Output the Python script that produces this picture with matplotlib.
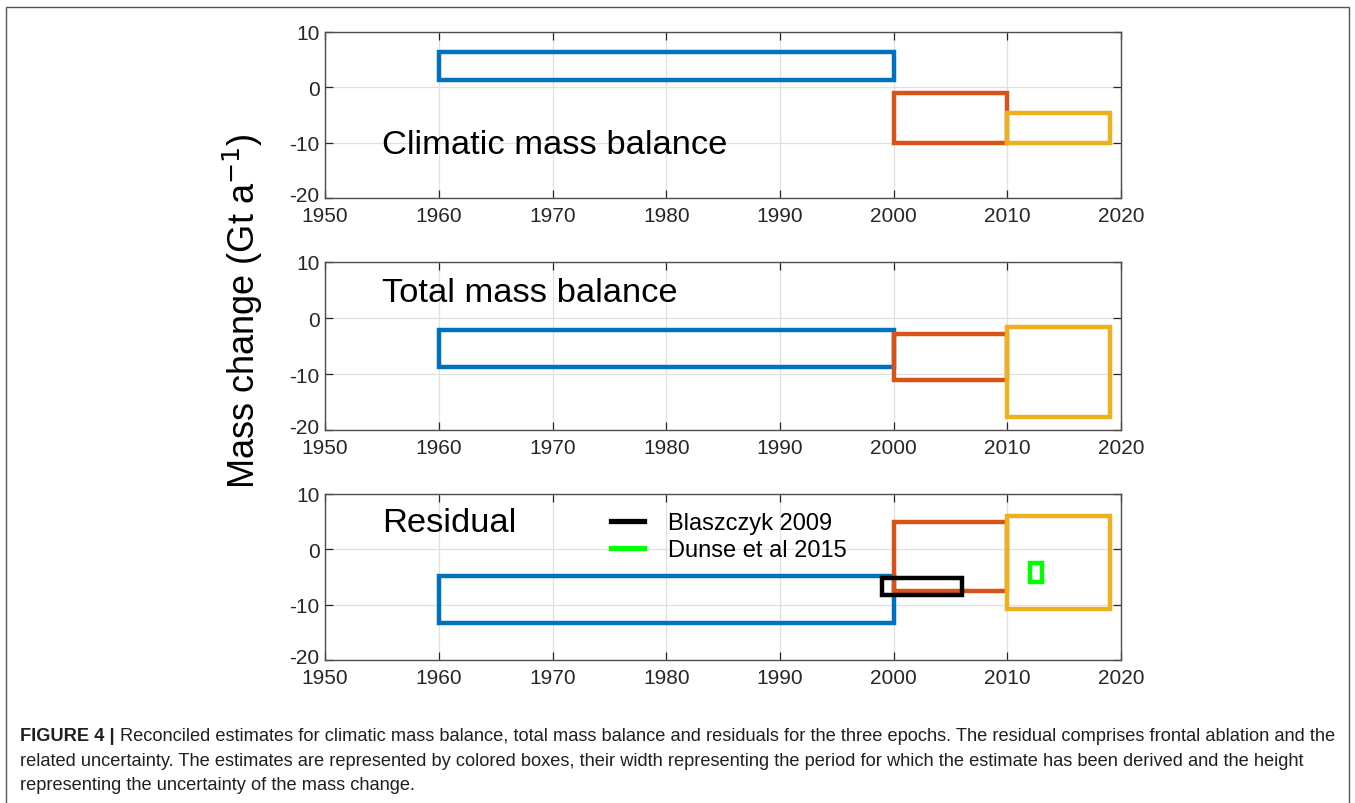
import matplotlib.pyplot as plt
import matplotlib.transforms as mtransforms
from matplotlib.patches import Rectangle

# epochs (start, end) and box limits (low, high) in Gt/a
epoch_start = [1960, 2000, 2010]
epoch_end = [2000, 2010, 2019]
box_colors = ['#0072BD', '#D95319', '#EDB120']

climatic_low = [1.3, -10.0, -10.0]
climatic_high = [6.4, -1.0, -4.6]

total_low = [-8.7, -11.0, -17.6]
total_high = [-2.2, -2.8, -1.6]

residual_low = [-13.4, -7.6, -10.8]
residual_high = [-4.9, 4.9, 6.1]

# published estimates for the residual
blaszczyk_x = [1999, 2006]
blaszczyk_y = [-8.3, -5.1]
dunse_x = [2012, 2013]
dunse_y = [-6.0, -2.5]

xticks = [1950, 1960, 1970, 1980, 1990, 2000, 2010, 2020]
yticks = [-20, -10, 0, 10]
panel_titles = ['Climatic mass balance', 'Total mass balance', 'Residual']

plt.rcParams['font.family'] = ['Liberation Sans', 'DejaVu Sans']
plt.rcParams['axes.unicode_minus'] = False
fig = plt.figure(figsize=(13.55, 8.04), dpi=100)

axes_pos = [[0.2399, 0.7525, 0.5875, 0.2065],
            [0.2399, 0.4639, 0.5875, 0.2090],
            [0.2399, 0.1779, 0.5875, 0.2065]]
lows = [climatic_low, total_low, residual_low]
highs = [climatic_high, total_high, residual_high]
title_xy = [(1955.0, -10.3), (1955.0, 4.6), (1955.0, 4.9)]

axs = []
for k in range(3):
    ax = fig.add_axes(axes_pos[k])
    for i in range(3):
        ax.add_patch(Rectangle((epoch_start[i], lows[k][i]), epoch_end[i] - epoch_start[i],
                               highs[k][i] - lows[k][i], fill=False, edgecolor=box_colors[i],
                               linewidth=3.2, joinstyle='miter', zorder=3))
    ax.set_xlim(1950, 2020)
    ax.set_ylim(-20, 10)
    ax.set_xticks(xticks)
    ax.set_yticks(yticks)
    ax.grid(True, color='#e0e0e0', linewidth=0.9)
    ax.set_axisbelow(True)
    ax.tick_params(direction='in', top=True, right=True, labelsize=15, colors='#262626',
                   length=6, width=0.9)
    ax.tick_params(axis='x', pad=5.5)
    ax.tick_params(axis='y', pad=4)
    # lift the lowest y label a little so it does not run into "1950"
    lbl = ax.get_yticklabels()[0]
    lbl.set_transform(lbl.get_transform() + mtransforms.ScaledTranslation(0, 3 / 72, fig.dpi_scale_trans))
    for s in ax.spines.values():
        s.set_color('#4d4d4d')
        s.set_linewidth(1.0)
    ax.text(title_xy[k][0], title_xy[k][1], panel_titles[k], fontsize=24.8, va='center', ha='left')
    axs.append(ax)

ax = axs[2]
ax.add_patch(Rectangle((blaszczyk_x[0], blaszczyk_y[0]), blaszczyk_x[1] - blaszczyk_x[0],
                       blaszczyk_y[1] - blaszczyk_y[0], fill=False, edgecolor='black',
                       linewidth=3.2, zorder=4))
ax.add_patch(Rectangle((dunse_x[0], dunse_y[0]), dunse_x[1] - dunse_x[0],
                       dunse_y[1] - dunse_y[0], fill=False, edgecolor='#00FF00',
                       linewidth=3.2, zorder=4))
ax.plot([], [], color='black', linewidth=3.8, label='Blaszczyk 2009')
ax.plot([], [], color='#00FF00', linewidth=3.8, label='Dunse et al 2015')
ax.legend(loc='upper left', bbox_to_anchor=(0.359, 0.89), frameon=False, fontsize=17,
          handlelength=1.4, handletextpad=1.0, labelspacing=0.2, borderpad=0,
          borderaxespad=0)

fig.text(0.179, 0.613, 'Mass change (Gt a$^{-1}$)', rotation=90, fontsize=26,
         ha='center', va='center')

# border around the figure panel
fig.patches.append(Rectangle((0.0045, -0.01), 0.991, 1.0, transform=fig.transFigure,
                             fill=False, edgecolor='#555555', linewidth=1.0))

cap_font = ['Liberation Sans Narrow', 'Liberation Sans', 'DejaVu Sans']
cap_size = 13.15
cap_lines = ['Reconciled estimates for climatic mass balance, total mass balance and residuals for the three epochs. The residual comprises frontal ablation and the',
             'related uncertainty. The estimates are represented by colored boxes, their width representing the period for which the estimate has been derived and the height',
             'representing the uncertainty of the mass change.']
t = fig.text(0.0148, 1 - 737 / 804, 'FIGURE 4 | ', fontsize=cap_size, fontweight='bold',
             family=cap_font, va='center', color='#231f20')
fig.canvas.draw()
bb = t.get_window_extent()
fig.text(bb.x1 / fig.bbox.width, 1 - 737 / 804, cap_lines[0], fontsize=cap_size, family=cap_font,
         va='center', color='#231f20')
fig.text(0.0148, 1 - 762 / 804, cap_lines[1], fontsize=cap_size, family=cap_font,
         va='center', color='#231f20')
fig.text(0.0148, 1 - 786 / 804, cap_lines[2], fontsize=cap_size, family=cap_font,
         va='center', color='#231f20')

fig.savefig('out.png', dpi=100)
